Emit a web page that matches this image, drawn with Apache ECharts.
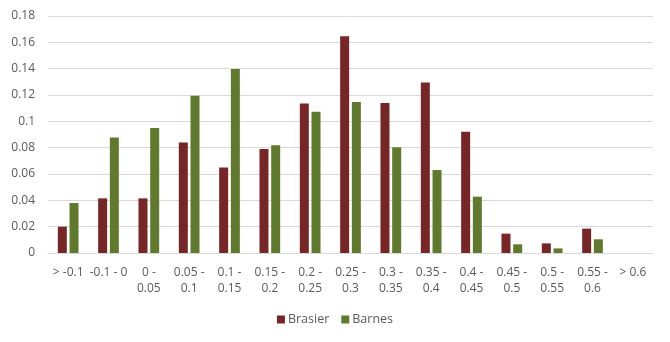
<!DOCTYPE html>
<html>
<head>
<meta charset="utf-8">
<script src="https://cdn.jsdelivr.net/npm/echarts@6/dist/echarts.min.js"></script>
<style>html,body{margin:0;padding:0;background:#fff;}#c{width:670px;height:342px;}</style>
</head>
<body>
<div id="c"></div>
<script>
var categories = ["> -0.1", "-0.1 - 0", "0 -\n0.05", "0.05 -\n0.1", "0.1 -\n0.15", "0.15 -\n0.2", "0.2 -\n0.25", "0.25 -\n0.3", "0.3 -\n0.35", "0.35 -\n0.4", "0.4 -\n0.45", "0.45 -\n0.5", "0.5 -\n0.55", "0.55 -\n0.6", "> 0.6"];
var brasier = [0.020, 0.0415, 0.0415, 0.084, 0.065, 0.079, 0.1135, 0.1646, 0.114, 0.1295, 0.092, 0.0147, 0.0073, 0.0185, 0];
var barnes = [0.038, 0.0877, 0.095, 0.1195, 0.1398, 0.0818, 0.1073, 0.1147, 0.0803, 0.063, 0.0428, 0.0066, 0.0035, 0.0104, 0];
var yTicks = {min: 0, max: 0.18, interval: 0.02};

var font = "Open Sans";
var chart = echarts.init(document.getElementById('c'), null, {renderer: 'canvas'});
chart.setOption({
  animation: false,
  backgroundColor: '#ffffff',
  grid: {left: 48, right: 17, top: 16, bottom: 89, containLabel: false},
  legend: {
    data: ['Brasier', 'Barnes'],
    bottom: 11,
    left: 'center',
    icon: 'rect',
    itemWidth: 8,
    itemHeight: 8,
    itemGap: 12,
    textStyle: {color: '#595959', fontSize: 12.5, fontFamily: font, padding: [0, 0, 0, -2]}
  },
  xAxis: {
    type: 'category',
    data: categories,
    axisLine: {lineStyle: {color: '#d9d9d9', width: 1}},
    axisTick: {show: false},
    axisLabel: {color: '#595959', fontSize: 12, fontFamily: font, interval: 0, margin: 12, lineHeight: 16}
  },
  yAxis: {
    type: 'value',
    min: yTicks.min, max: yTicks.max, interval: yTicks.interval,
    axisLine: {show: false},
    axisTick: {show: false},
    splitLine: {lineStyle: {color: '#d9d9d9', width: 1}},
    axisLabel: {color: '#595959', fontSize: 12, fontFamily: font, margin: 13,
      formatter: function (v) { return String(parseFloat(v.toFixed(2))); }}
  },
  series: [
    {name: 'Brasier', type: 'bar', data: brasier, barWidth: 9, barGap: '30%', itemStyle: {color: '#772628'}},
    {name: 'Barnes', type: 'bar', data: barnes, barWidth: 9, barGap: '30%', itemStyle: {color: '#5f7a2d'}}
  ]
});
</script>
</body>
</html>
